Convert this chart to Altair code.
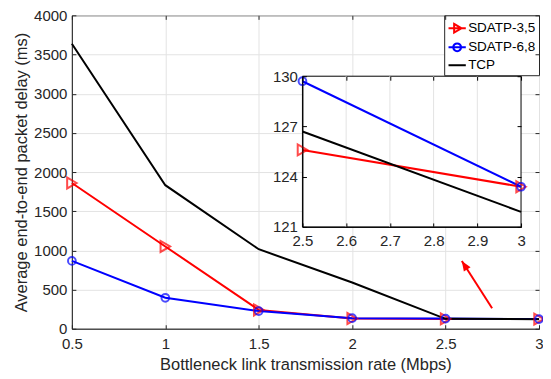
import altair as alt
import pandas as pd

# ---------------- data ----------------
rates = [0.5, 1.0, 1.5, 2.0, 2.5, 3.0]
sdatp35 = [1860, 1050, 240, 130, 125.6, 123.4]
sdatp68 = [866, 395, 225, 135, 129.7, 123.4]
tcp = [3637, 1832, 1015, 590, 126.7, 121.9]
series_names = ["SDATP-3,5", "SDATP-6,8", "TCP"]
series_colors = ["#ff0000", "#0000ff", "#000000"]

main_x_ticks = [0.5, 1, 1.5, 2, 2.5, 3]
main_y_ticks = [0, 500, 1000, 1500, 2000, 2500, 3000, 3500, 4000]
inset_x_ticks = [2.5, 2.6, 2.7, 2.8, 2.9, 3.0]
inset_y_ticks = [121, 124, 127, 130]
inset_x_domain = [2.5, 3.0]
inset_y_domain = [121, 130]
arrow_tail = [2.749, 262]
arrow_tip = [2.587, 864]

# ---------------- tables ----------------
rows = []
for name, vals in zip(series_names, [sdatp35, sdatp68, tcp]):
    for r, v in zip(rates, vals):
        rows.append({"rate": r, "value": v, "series": name})
df = pd.DataFrame(rows)
inset_df = df[df["rate"] >= inset_x_domain[0]]

box_df = pd.DataFrame([{"x0": inset_x_domain[0], "x1": inset_x_domain[1],
                        "y0": inset_y_domain[0], "y1": inset_y_domain[1]}])
grid_df = pd.DataFrame({"g": inset_x_ticks[1:-1],
                        "y0": [inset_y_domain[0]] * (len(inset_x_ticks) - 2),
                        "y1": [inset_y_domain[1]] * (len(inset_x_ticks) - 2)})
arrow_df = pd.DataFrame([{"x0": arrow_tail[0], "y0": arrow_tail[1],
                          "x1": arrow_tip[0], "y1": arrow_tip[1]}])

FONT = "Liberation Sans"
TXT = "#262626"
GRID = "#e3e3e3"
W, H = 468, 314
TK = 4  # inward tick length

color_scale = alt.Scale(domain=series_names, range=series_colors)

# ---------------- main scales/axes ----------------
mx_scale = alt.Scale(domain=[0.5, 3], nice=False, zero=False)
my_scale = alt.Scale(domain=[0, 4000], nice=False, zero=True)
mx_axis = alt.Axis(orient="bottom", values=main_x_ticks, format="~g", grid=True,
                   gridColor=GRID, tickSize=0, labelPadding=8, labelFont=FONT,
                   labelFontSize=15, labelColor=TXT, domainColor=TXT,
                   titleFont=FONT, titleFontSize=16.5, titleFontWeight="normal",
                   titleColor=TXT, titlePadding=5, labelFlush=False)
my_axis = alt.Axis(orient="left", values=main_y_ticks, format="d", grid=True,
                   gridColor=GRID, tickSize=0, labelPadding=5, labelFont=FONT,
                   labelFontSize=15, labelColor=TXT, domainColor=TXT,
                   titleFont=FONT, titleFontSize=16.5, titleFontWeight="normal",
                   titleColor=TXT, titlePadding=4, labelFlush=False)


def tick_axis(orient, offset, values, color=TXT):
    return alt.Axis(orient=orient, offset=offset, values=values, labels=False,
                    domain=False, grid=False, ticks=True, tickSize=TK,
                    tickColor=color, title=None, zindex=2)


XT = "Bottleneck link transmission rate (Mbps)"
YT = "Average end-to-end packet delay (ms)"


def mx(f, axis=None):
    return alt.X(f, type="quantitative", scale=mx_scale, axis=axis, title=None)


def my(f, axis=None):
    return alt.Y(f, type="quantitative", scale=my_scale, axis=axis, title=None)


col_nl = alt.Color("series:N", scale=color_scale, legend=None)

legend_cfg = dict(title=None, orient="top-right", offset=0, strokeColor=TXT,
                  fillColor="white", padding=3, labelFont=FONT,
                  labelFontSize=13.5, labelColor="black", symbolSize=300,
                  symbolStrokeWidth=2, symbolOpacity=1, labelOffset=1,
                  rowPadding=0, symbolFillColor="transparent")

shape_paths = [
    "M-1,0H1M-0.35,-0.5L0.5,0L-0.35,0.5Z",
    "M-1,0H1M0.45,0A0.45,0.45 0 1,1 -0.45,0A0.45,0.45 0 1,1 0.45,0",
    "M-1,0H1",
]

legend_layer = alt.Chart(df).mark_point(opacity=0, filled=False).encode(
    x=alt.X("rate", type="quantitative", scale=mx_scale, axis=mx_axis, title=XT),
    y=alt.Y("value", type="quantitative", scale=my_scale, axis=my_axis, title=YT),
    color=alt.Color("series:N", scale=color_scale, legend=alt.Legend(**legend_cfg)),
    shape=alt.Shape("series:N", scale=alt.Scale(domain=series_names, range=shape_paths),
                    legend=alt.Legend(**legend_cfg)))
main_lines = alt.Chart(df).mark_line(strokeWidth=2).encode(
    x=mx("rate", tick_axis("bottom", -TK, main_x_ticks)),
    y=my("value", tick_axis("left", -TK, main_y_ticks)),
    color=col_nl)
main_tri = alt.Chart(df).transform_filter(
    alt.datum.series == series_names[0]).mark_point(
    shape="triangle-right", size=120, strokeWidth=2, filled=False).encode(
    x=mx("rate", tick_axis("top", -TK, main_x_ticks)),
    y=my("value", tick_axis("right", -TK, main_y_ticks)),
    color=col_nl)
main_circ = alt.Chart(df).transform_filter(
    alt.datum.series == series_names[1]).mark_point(
    shape="circle", size=60, strokeWidth=2, filled=False).encode(
    x=mx("rate"), y=my("value"), color=col_nl)
arrow_line = alt.Chart(arrow_df).mark_rule(color="#ff0000", strokeWidth=2).encode(
    x=mx("x0"), y=my("y0"), x2="x1", y2="y1")
arrow_head = alt.Chart(arrow_df).mark_point(
    shape="M0,0L-0.4,1L0.4,1Z", filled=True, size=400, angle=327.5,
    color="#ff0000", opacity=1).encode(x=mx("x1"), y=my("y1"))

main = alt.layer(legend_layer, main_lines, main_tri, main_circ, arrow_line,
                 arrow_head).resolve_axis(x="independent", y="independent")

# ---------------- inset ----------------
IX0, IX1 = 231, 450
IY0, IY1 = 212, 61
ix_scale = alt.Scale(domain=inset_x_domain, range=[IX0, IX1], nice=False, zero=False)
iy_scale = alt.Scale(domain=inset_y_domain, range=[IY0, IY1], nice=False, zero=False)
ix_axis = alt.Axis(orient="bottom", offset=-(H - IY0), values=inset_x_ticks,
                   format="~g", grid=False, tickSize=0, labelPadding=7,
                   labelFont=FONT, labelFontSize=15, labelColor=TXT,
                   domainColor="black", zindex=2, title=None, labelFlush=False)
iy_axis = alt.Axis(orient="left", offset=-IX0, values=inset_y_ticks, grid=False,
                   tickSize=0, labelPadding=5, labelFont=FONT, labelFontSize=15,
                   labelColor=TXT, domainColor="black", zindex=2, title=None,
                   labelFlush=False)


def ix(f, axis=None):
    return alt.X(f, type="quantitative", scale=ix_scale, axis=axis, title=None)


def iy(f, axis=None):
    return alt.Y(f, type="quantitative", scale=iy_scale, axis=axis, title=None)


inset_bg = alt.Chart(box_df).mark_rect(fill="white", stroke="black", strokeWidth=1).encode(
    x=ix("x0", ix_axis), x2="x1", y=iy("y0", iy_axis), y2="y1")
inset_grid = alt.Chart(grid_df).mark_rule(color=GRID, strokeWidth=1).encode(
    x=ix("g", tick_axis("bottom", IY0 - TK - H, inset_x_ticks, "black")),
    y=iy("y0", tick_axis("left", -(IX0 + TK), inset_y_ticks, "black")),
    y2="y1")
inset_lines = alt.Chart(inset_df).mark_line(strokeWidth=2).encode(
    x=ix("rate", tick_axis("top", -(IY1 + TK), inset_x_ticks, "black")),
    y=iy("value", tick_axis("right", IX1 - TK - W, inset_y_ticks, "black")),
    color=col_nl)
inset_tri = alt.Chart(inset_df).transform_filter(
    alt.datum.series == series_names[0]).mark_point(
    shape="triangle-right", size=120, strokeWidth=2, filled=False).encode(
    x=ix("rate"), y=iy("value"), color=col_nl)
inset_circ = alt.Chart(inset_df).transform_filter(
    alt.datum.series == series_names[1]).mark_point(
    shape="circle", size=60, strokeWidth=2, filled=False).encode(
    x=ix("rate"), y=iy("value"), color=col_nl)

inset = alt.layer(inset_bg, inset_grid, inset_lines, inset_tri,
                  inset_circ).resolve_axis(x="independent", y="independent")

chart = alt.layer(main, inset).resolve_scale(
    x="independent", y="independent").properties(
    width=W, height=H,
    autosize=alt.AutoSizeParams(type="none"),
    padding={"left": 64, "top": 7, "right": 4, "bottom": 44},
).configure_view(stroke=TXT, strokeWidth=1)

chart.save("out.html", embed_options={"renderer": "svg", "actions": False})
